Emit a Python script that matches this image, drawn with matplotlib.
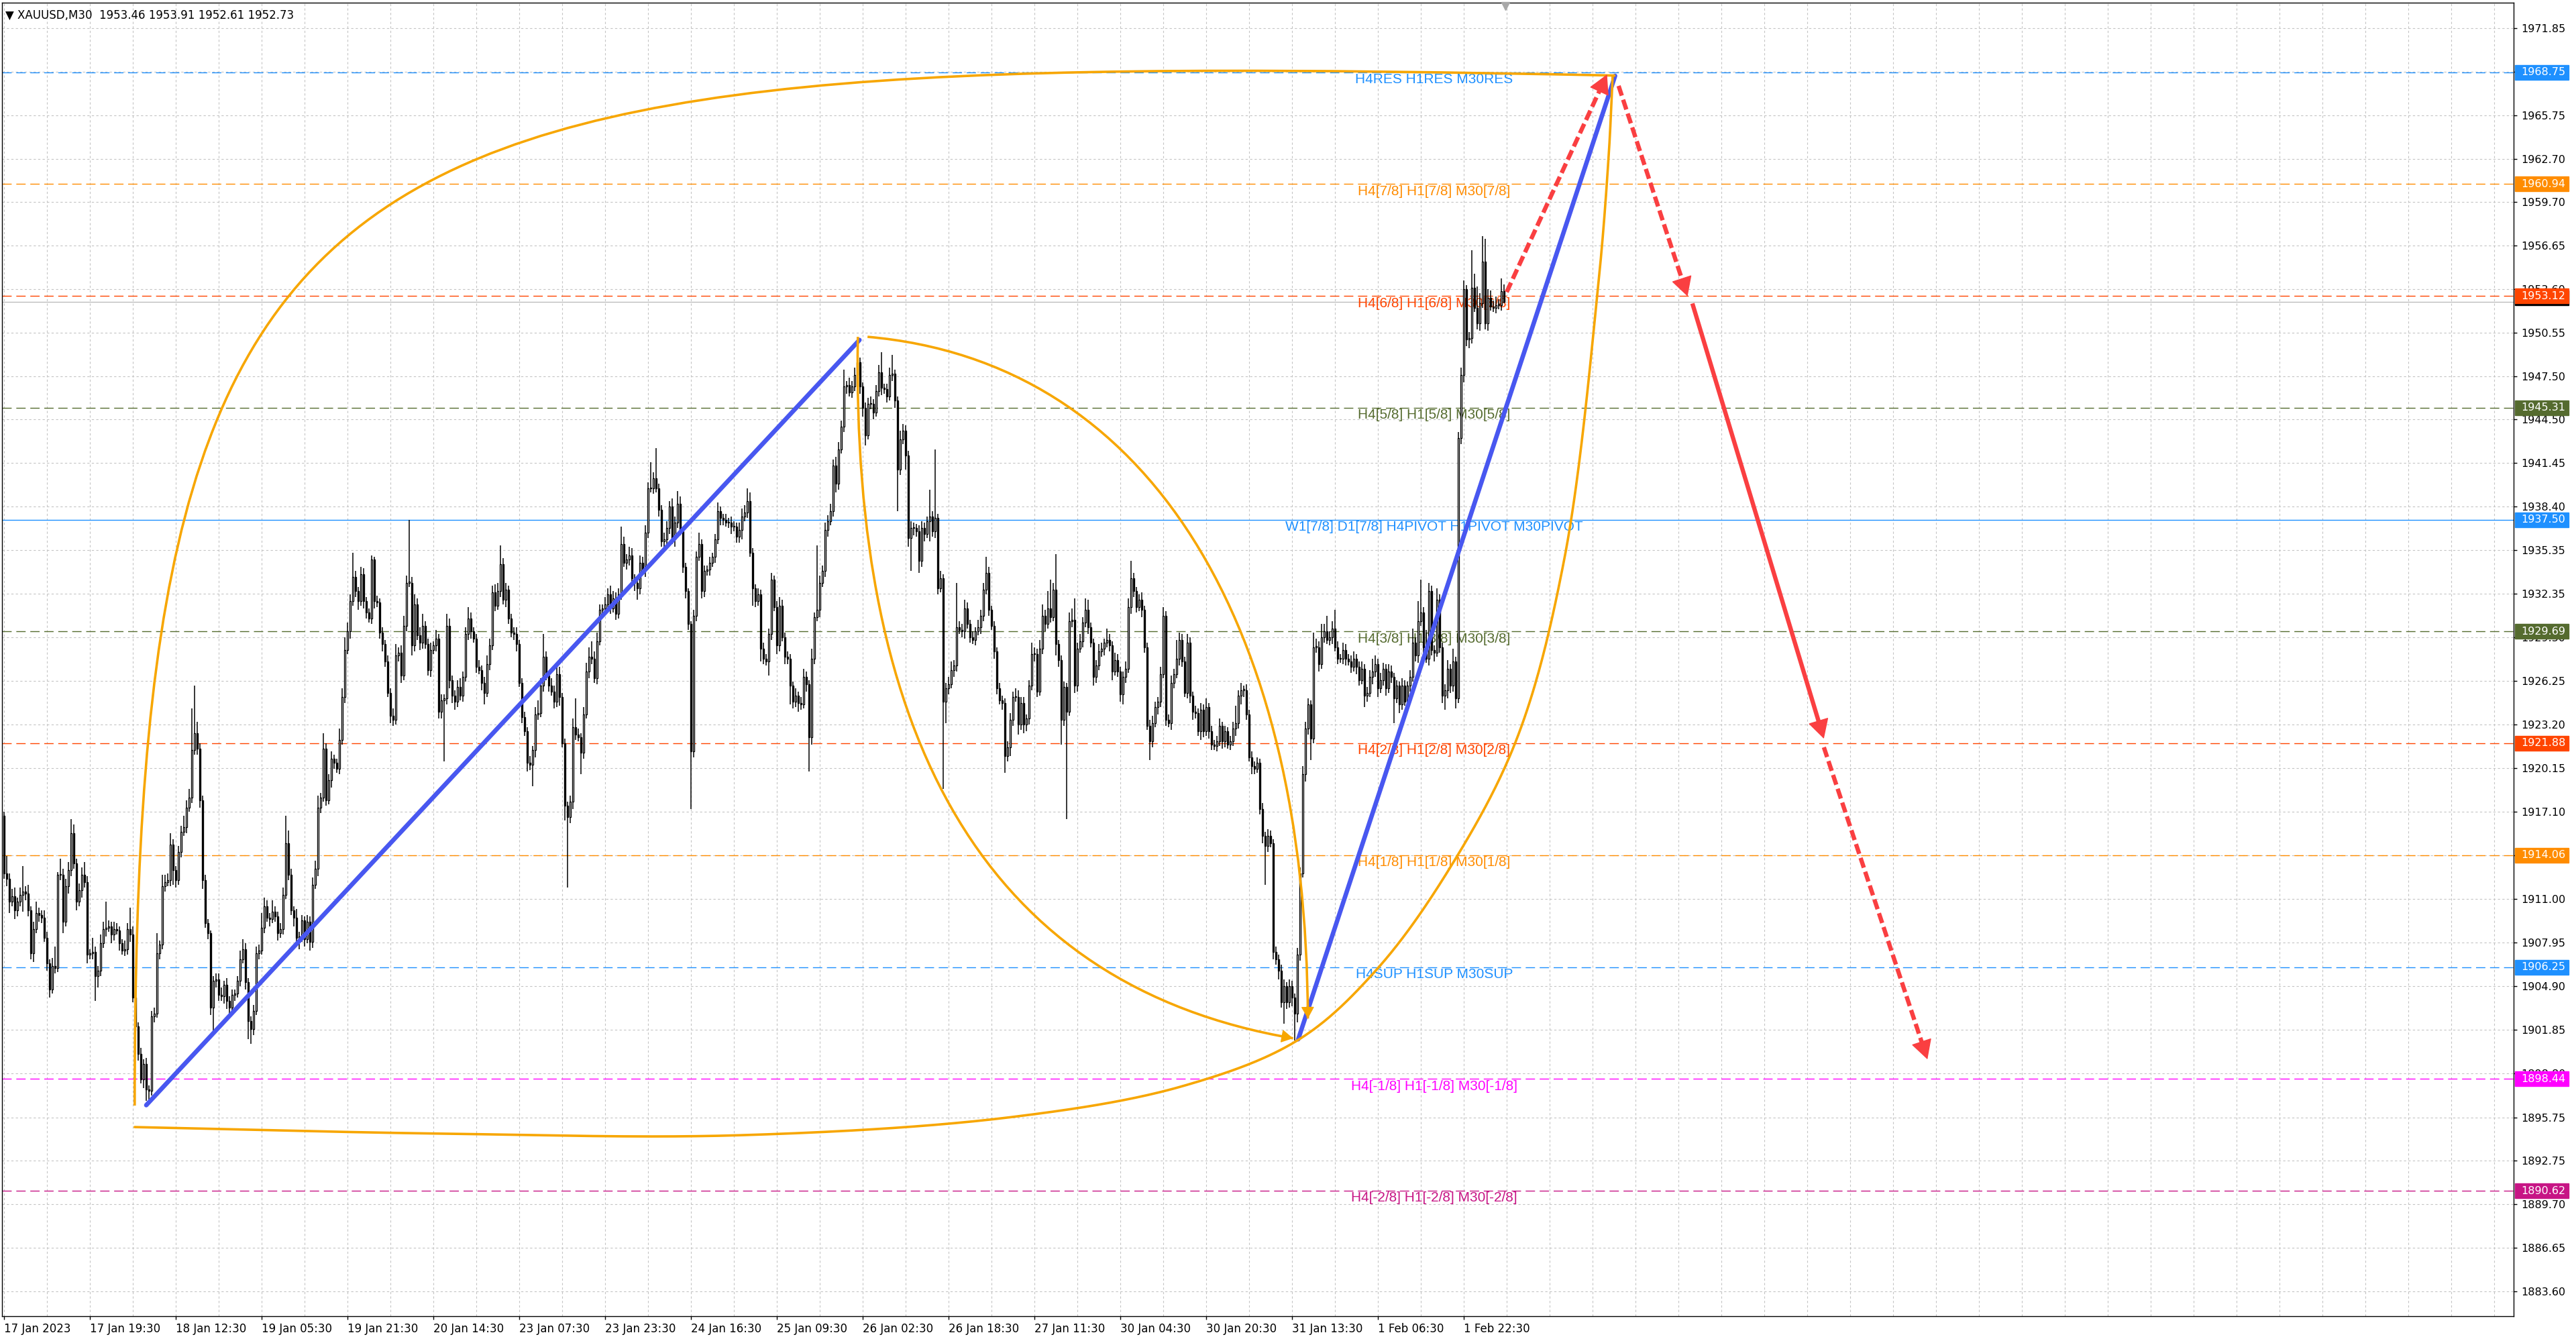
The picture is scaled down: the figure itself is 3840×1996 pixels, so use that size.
import matplotlib
matplotlib.use("Agg")
import matplotlib.pyplot as plt
import numpy as np
from matplotlib.path import Path
from matplotlib.patches import PathPatch, FancyArrowPatch, Rectangle
import matplotlib.transforms as mtransforms

# ---- data (XAUUSD M30) ----
symbol = "XAUUSD,M30"
first_open = 1916.8

closes = [
    1912.8, 1912.4, 1910.8, 1911.2, 1910.2, 1910.8, 1911.3, 1911.5, 1911.4, 1910.2,  # 0
    1907.2, 1908.9, 1910.0, 1909.9, 1909.7, 1908.3, 1906.5, 1904.7, 1906.3, 1906.2,  # 10
    1912.7, 1912.7, 1909.4, 1911.9, 1913.0, 1915.6, 1913.5, 1910.8, 1911.6, 1912.7,  # 20
    1912.2, 1907.1, 1907.2, 1907.3, 1905.6, 1906.0, 1907.9, 1908.9, 1909.0, 1909.1,  # 30
    1908.5, 1908.9, 1908.8, 1907.9, 1907.4, 1907.5, 1908.9, 1908.5, 1904.1, 1902.1,  # 40
    1900.2, 1898.4, 1899.5, 1897.7, 1897.6, 1902.8, 1903.0, 1907.2, 1907.8, 1911.9,  # 50
    1912.2, 1912.3, 1914.8, 1913.0, 1912.3, 1914.3, 1915.7, 1916.0, 1917.4, 1918.1,  # 60
    1921.4, 1922.6, 1921.5, 1917.9, 1912.3, 1909.3, 1908.6, 1903.4, 1905.3, 1905.4,  # 70
    1904.3, 1904.2, 1905.0, 1903.9, 1903.4, 1904.3, 1904.4, 1905.3, 1906.8, 1907.5,  # 80
    1905.2, 1902.5, 1901.9, 1903.2, 1907.2, 1907.4, 1909.0, 1910.5, 1909.7, 1909.6,  # 90
    1910.1, 1909.8, 1908.6, 1908.9, 1911.3, 1914.9, 1912.7, 1910.2, 1909.7, 1908.3,  # 100
    1908.4, 1909.5, 1908.2, 1909.4, 1908.0, 1912.0, 1913.1, 1917.4, 1918.1, 1921.5,  # 110
    1917.9, 1919.3, 1920.8, 1920.5, 1920.1, 1922.1, 1925.1, 1928.4, 1929.7, 1931.8,  # 120
    1933.5, 1932.5, 1931.8, 1933.7, 1931.8, 1931.0, 1930.6, 1934.7, 1931.8, 1931.7,  # 130
    1929.6, 1928.8, 1927.6, 1925.4, 1923.8, 1923.5, 1928.0, 1928.2, 1926.6, 1930.1,  # 140
    1933.1, 1933.1, 1928.7, 1931.6, 1929.4, 1928.9, 1930.1, 1928.8, 1927.0, 1928.4,  # 150
    1928.7, 1929.2, 1924.1, 1924.9, 1925.0, 1930.1, 1926.3, 1925.2, 1924.8, 1925.8,  # 160
    1925.2, 1926.5, 1929.5, 1930.6, 1929.7, 1929.2, 1927.2, 1927.0, 1926.1, 1925.4,  # 170
    1927.4, 1928.7, 1932.4, 1931.5, 1932.5, 1934.4, 1931.9, 1932.6, 1930.6, 1929.6,  # 180
    1929.5, 1928.8, 1926.1, 1923.7, 1922.7, 1920.5, 1920.4, 1921.4, 1923.9, 1924.0,  # 190
    1925.9, 1927.9, 1926.6, 1925.9, 1925.5, 1924.8, 1926.7, 1925.1, 1921.9, 1917.5,  # 200
    1916.7, 1917.8, 1923.0, 1922.5, 1922.3, 1921.2, 1923.9, 1926.9, 1927.9, 1927.8,  # 210
    1926.4, 1929.0, 1931.2, 1931.3, 1931.6, 1932.3, 1931.3, 1932.0, 1930.9, 1932.3,  # 220
    1935.8, 1934.5, 1934.7, 1935.0, 1933.4, 1933.1, 1932.7, 1934.5, 1934.0, 1936.6,  # 230
    1939.7, 1939.7, 1940.4, 1939.7, 1938.2, 1936.0, 1936.1, 1936.9, 1938.4, 1936.1,  # 240
    1937.3, 1938.6, 1936.7, 1934.2, 1932.5, 1930.2, 1921.3, 1930.8, 1934.9, 1935.8,  # 250
    1932.5, 1933.9, 1934.0, 1934.5, 1934.9, 1936.1, 1938.1, 1937.6, 1937.5, 1937.3,  # 260
    1937.3, 1937.0, 1937.0, 1936.3, 1936.8, 1937.7, 1938.0, 1938.8, 1935.2, 1932.7,  # 270
    1931.8, 1932.3, 1928.5, 1927.8, 1927.6, 1929.5, 1933.3, 1931.4, 1928.7, 1931.5,  # 280
    1929.3, 1927.9, 1927.8, 1925.9, 1924.8, 1925.2, 1924.7, 1924.6, 1926.5, 1926.0,  # 290
    1922.3, 1927.8, 1930.7, 1931.2, 1933.1, 1933.9, 1936.8, 1937.4, 1938.1, 1941.3,  # 300
    1940.0, 1942.4, 1944.0, 1946.8, 1946.9, 1946.4, 1946.8, 1947.6, 1948.5, 1946.8,  # 310
    1945.3, 1943.4, 1945.6, 1945.6, 1945.0, 1946.5, 1947.8, 1946.7, 1946.6, 1946.1,  # 320
    1947.6, 1947.7, 1945.8, 1941.0, 1943.1, 1943.7, 1942.0, 1936.2, 1936.9, 1936.9,  # 330
    1936.7, 1934.6, 1936.9, 1936.5, 1937.4, 1937.7, 1936.7, 1937.6, 1932.7, 1933.4,  # 340
    1924.8, 1925.7, 1926.0, 1927.0, 1927.3, 1930.0, 1929.8, 1929.7, 1931.3, 1930.2,  # 350
    1929.3, 1929.1, 1929.7, 1930.0, 1930.8, 1932.6, 1933.8, 1931.2, 1930.1, 1928.3,  # 360
    1925.7, 1924.9, 1924.7, 1921.0, 1921.6, 1923.5, 1925.1, 1925.1, 1923.2, 1924.7,  # 370
    1923.2, 1923.6, 1925.9, 1928.1, 1928.1, 1925.5, 1928.5, 1930.8, 1930.2, 1931.3,  # 380
    1930.7, 1932.6, 1928.8, 1927.7, 1923.5, 1925.8, 1924.1, 1930.4, 1930.5, 1925.9,  # 390
    1928.5, 1929.0, 1930.3, 1931.2, 1930.0, 1928.9, 1926.5, 1927.3, 1928.3, 1928.5,  # 400
    1928.9, 1929.1, 1928.7, 1926.9, 1927.7, 1926.9, 1925.3, 1926.5, 1927.1, 1931.4,  # 410
    1933.4, 1932.5, 1931.4, 1931.9, 1931.2, 1928.6, 1923.1, 1922.0, 1923.3, 1924.4,  # 420
    1924.8, 1926.7, 1930.8, 1923.5, 1923.3, 1926.1, 1926.7, 1927.8, 1929.1, 1927.6,  # 430
    1925.4, 1928.9, 1925.2, 1924.1, 1924.0, 1922.7, 1924.2, 1922.7, 1924.4, 1922.7,  # 440
    1921.8, 1921.7, 1922.0, 1923.1, 1922.0, 1922.7, 1921.8, 1922.0, 1922.9, 1923.3,  # 450
    1925.2, 1925.6, 1925.6, 1923.9, 1920.9, 1920.3, 1920.1, 1920.5, 1917.3, 1915.4,  # 460
    1914.7, 1915.4, 1914.9, 1907.3, 1906.8, 1906.0, 1903.8, 1904.9, 1903.8, 1904.9,  # 470
    1904.1, 1903.0, 1907.1, 1912.8, 1919.7, 1922.9, 1924.6, 1922.2, 1928.6, 1928.6,  # 480
    1927.4, 1929.3, 1929.7, 1929.1, 1929.3, 1929.9, 1928.6, 1927.8, 1927.8, 1928.4,  # 490
    1927.8, 1927.6, 1927.2, 1927.8, 1927.2, 1926.3, 1927.1, 1925.2, 1925.4, 1926.5,  # 500
    1926.9, 1927.4, 1925.7, 1926.3, 1927.1, 1925.7, 1926.9, 1926.5, 1925.0, 1925.9,  # 510
    1924.6, 1925.9, 1924.8, 1925.9, 1926.5, 1928.9, 1928.0, 1930.4, 1931.0, 1928.6,  # 520
    1927.8, 1932.5, 1928.4, 1928.2, 1931.9, 1928.6, 1925.2, 1925.6, 1927.1, 1925.9,  # 530
    1927.6, 1925.0, 1943.2, 1947.6, 1953.6, 1950.1, 1950.2, 1953.7, 1952.3, 1951.2,  # 540
    1952.6, 1955.5, 1951.2, 1953.0, 1952.4, 1952.3, 1952.5, 1952.5, 1953.46, 1952.73,  # 550
]

upper_wick = [
    .3, 1.2, .4, .5, .6, .3, .5, 1.8, .4, .6,
    .3, .5, .8, .4, .3, .5, .4, .3, .6, 1.4,
    .2, 1.1, .4, .5, .6, 1.0, .6, .3, .5, .5,
    .9, .4, .3, 1.0, .4, .3, .6, .5, 1.8, .4,
    .3, .5, .4, .3, .3, .6, .4, 1.5, .6, .3,
    .3, .4, .3, .4, .3, .4, .4, 1.4, .3, .8,
    .5, .5, .8, .4, .3, .4, .4, .8, .5, .6,
    2.9, 3.3, .8, .4, .3, .4, .3, .2, .3, .4,
    .4, .5, .3, .5, .3, .4, .3, .3, .6, .7,
    .4, .3, .3, .4, .5, .4, 1.0, .6, .4, .3,
    .8, .4, .3, .4, .5, 1.9, .9, .4, .3, .6,
    .3, .4, .3, .5, .4, .5, .6, .8, .3, 1.1,
    .4, .4, .5, .3, .3, .8, .6, .9, .6, .5,
    1.7, .4, .3, .5, .4, .3, .3, .3, .2, .4,
    .3, .4, .3, .4, .3, .5, .8, .4, .5, .7,
    .5, 4.4, .4, .7, .4, .6, .8, .3, .4, .5,
    .3, .6, .3, .4, .3, .8, .5, .3, .4, .5,
    .6, .4, .5, .8, .4, .3, .3, .5, .3, .4,
    .6, .5, .5, .6, .6, 1.3, .4, .5, .3, .3,
    .4, .5, .3, .3, .4, .3, .5, .3, .5, .9,
    .5, 1.6, .4, .3, .5, .4, .7, .5, .3, .3,
    .3, .4, .6, 2.0, .4, .3, .5, .6, .7, 1.1,
    .5, .6, .4, .3, .5, .4, .6, .5, .4, .4,
    1.2, .5, .4, .6, .5, .3, .4, .5, .4, .5,
    .4, 1.8, .4, 2.1, .3, .3, .5, .5, .4, .6,
    .4, .9, .5, .3, .3, .2, .2, .4, .4, .8,
    .3, .4, .3, .4, .3, .4, .6, .3, .3, .4,
    .3, .4, .4, .3, .5, .6, .5, .9, .6, .3,
    .3, .4, .3, .4, .3, .4, .5, .3, .4, .6,
    .4, .3, .4, .3, .3, .5, .3, .4, .6, .4,
    .3, .7, .3, 4.5, .5, .4, .5, .4, .5, .4,
    .6, .5, .4, 1.2, .3, .5, .4, .5, .7, .3,
    .3, .4, .4, .5, .3, .4, .5, 1.4, .3, .4,
    .5, 1.3, .3, .3, .6, .5, .4, .3, .5, .4,
    .3, .4, .5, .4, .3, 1.9, .4, 4.8, .3, .5,
    .3, .4, .5, .6, .4, 3.1, .4, .4, .6, .4,
    .3, .4, .3, .5, .4, .5, 1.1, .4, .3, .3,
    .3, .4, .3, .3, .4, .5, .4, .6, .5, .4,
    .4, .3, .4, .8, .5, .4, .6, .8, .4, 1.2,
    2.0, .5, 2.5, .3, .3, .4, .3, .6, .8, 1.5,
    .4, .5, .4, .8, .7, .3, .3, .4, .5, .4,
    .3, .8, .4, .3, .5, .4, .3, .4, .5, .6,
    1.2, .4, .3, .4, .5, .3, .3, .4, .5, .4,
    .3, .5, .6, .3, .4, .5, .4, 1.3, .5, .4,
    .3, .6, .4, .3, .4, .3, .5, .4, .6, .3,
    .4, .3, .4, .5, .3, .4, .3, .4, .5, 1.2,
    .4, .5, .3, .4, .3, .4, .3, .4, .3, .4,
    .3, .5, .4, .3, .4, .3, .4, .5, .3, .5,
    .4, .3, .5, .4, .6, .5, .4, .3, 1.0, .6,
    .4, .9, .5, 1.1, .4, .5, 1.3, .4, .3, .5,
    .4, .3, .4, .5, .3, .4, .5, .3, .4, .5,
    .9, .6, .4, .5, .4, .3, .5, .4, .3, .4,
    .3, .5, .4, .3, .5, 1.0, .4, 1.4, 2.3, .4,
    1.2, .6, .4, .3, .8, .4, .3, .4, .6, .3,
    .9, .3, .4, .5, .6, .3, .4, 2.6, 1.0, 1.5,
    .7, 1.8, 1.6, .6, .5, .4, .6, .4, .9, .45,
]

lower_wick = [
    .4, .5, .8, .3, .6, .4, .3, 1.2, .5, .4,
    .4, .6, .3, .5, .4, .3, .5, .6, .3, .4,
    .3, .4, .8, .3, .5, .4, .4, .6, .3, .5,
    .4, .6, .3, .4, 1.7, .8, .4, .3, .5, .3,
    .6, .4, .3, .5, .3, .4, .4, .5, .3, .4,
    .5, .3, .6, .8, .6, .3, .4, .3, .4, .3,
    .4, .3, .4, 1.0, .5, .3, .4, .3, .4, .3,
    .4, .3, .4, .5, .6, .3, .4, .5, 1.7, .5,
    .4, .3, .5, .6, .4, .3, .4, .3, .4, .3,
    .5, 1.3, 1.0, .4, .3, .4, .3, .4, .3, .5,
    .3, .4, .5, .3, .4, .3, .4, .3, .6, .5,
    .8, .4, .5, .3, .6, .4, .3, .5, .4, .3,
    .4, .3, .5, .4, .3, .4, .3, .4, .3, .5,
    .3, .4, .6, .3, .5, .4, .3, .4, .5, .3,
    .4, .5, .4, .3, .5, .4, .3, .4, .5, .3,
    .4, .3, .7, .4, .3, .5, .4, .3, .4, .5,
    .3, .4, .5, .5, 4.3, .4, .6, .5, .6, .4,
    .3, .4, .3, .4, .5, .3, .4, .3, .5, .8,
    .3, .4, .3, .4, .3, .4, .3, .5, .4, .3,
    .4, .5, .3, .4, .3, .6, .4, 1.5, .5, .4,
    .3, .4, .3, .4, .3, .5, .4, .6, .3, 1.0,
    4.9, .4, .5, .4, .3, 1.5, .4, .3, .5, .4,
    .3, .4, .3, .4, .3, .5, .4, .3, .4, .3,
    .4, .3, .5, .4, .3, .6, .8, .4, .3, .5,
    .4, .3, .4, .3, .5, .4, .6, .3, .4, .3,
    .5, .4, .3, .4, .5, .4, 4.0, .4, .4, .3,
    .5, .4, .3, .4, .3, .4, .3, .5, .4, .3,
    .4, .5, .3, .4, .4, .7, .3, .4, .3, 1.2,
    .4, .3, .9, .4, .3, 1.0, .4, .3, .6, .4,
    .3, .5, .4, 1.3, .5, .4, .6, .4, .3, .5,
    2.4, .5, .4, .3, .5, .3, .4, .5, .3, .4,
    .6, .4, .3, .4, .5, .3, .4, .3, .4, .5,
    .6, .7, .3, .4, .5, .3, .4, .5, .3, .4,
    .3, .4, .5, 2.9, .4, .3, 1.0, .6, 2.3, .5,
    .4, .8, .4, .5, .3, 1.4, .4, .5, .4, .3,
    6.1, 1.5, .4, .3, .5, .4, .3, .4, .5, .3,
    .4, .3, .4, .3, .5, .4, .3, .4, .3, .5,
    .4, .3, .5, 1.2, .4, .6, .4, .3, .7, .4,
    .6, .5, .4, .3, .5, .4, .3, .4, .5, .3,
    .4, .3, .8, .5, 1.7, .4, 7.5, .3, .4, .5,
    .4, .3, .4, .3, .5, .3, .6, .4, .3, .4,
    .5, .3, .4, .6, .3, .4, .5, .7, .4, .3,
    .5, .4, .4, .3, .5, .4, .3, 1.3, .4, .3,
    .5, .4, .3, .4, .3, .5, .4, .3, .5, .4,
    .3, .4, .5, .6, .4, .3, .6, .4, .3, .5,
    .4, .3, .4, .3, .5, .4, .3, .4, .3, .5,
    .4, .6, .5, .4, .3, .6, .4, .3, .4, .5,
    2.7, .4, .3, .5, .4, .6, .4, 1.5, .5, .4,
    .6, 1.9, .6, .4, .3, .5, .4, 1.5, .3, .4,
    .5, .3, .4, .3, .4, .5, .3, .4, .3, .4,
    .5, .3, .4, .3, .5, .4, .3, .8, .4, .3,
    .5, .4, .6, .3, .4, .5, .3, .4, 1.7, .3,
    .6, .4, .3, .5, .4, .3, .4, .5, .3, .4,
    .3, .5, .4, .6, .3, .4, .5, 1.0, .6, .5,
    .4, .7, .3, .4, .5, .5, .6, .4, .3, .4,
    .5, .3, .4, .5, .3, .3, .4, .3, .4, .12,
]

date_labels = ["17 Jan 2023", "17 Jan 19:30", "18 Jan 12:30", "19 Jan 05:30", "19 Jan 21:30",
               "20 Jan 14:30", "23 Jan 07:30", "23 Jan 23:30", "24 Jan 16:30", "25 Jan 09:30",
               "26 Jan 02:30", "26 Jan 18:30", "27 Jan 11:30", "30 Jan 04:30", "30 Jan 20:30",
               "31 Jan 13:30", "1 Feb 06:30", "1 Feb 22:30"]
bars_per_label = 32

price_ticks = [1971.85, 1968.80, 1965.75, 1962.70, 1959.70, 1956.65, 1953.60, 1950.55, 1947.50,
               1944.50, 1941.45, 1938.40, 1935.35, 1932.35, 1929.30, 1926.25, 1923.20, 1920.15,
               1917.10, 1914.05, 1911.00, 1907.95, 1904.90, 1901.85, 1898.80, 1895.75, 1892.75,
               1889.70, 1886.65, 1883.60]

level_prices = [1968.75, 1960.94, 1953.12, 1945.31, 1937.50, 1929.69, 1921.88, 1914.06,
                1906.25, 1898.44, 1890.62]
level_names = ["H4RES H1RES M30RES", "H4[7/8] H1[7/8] M30[7/8]", "H4[6/8] H1[6/8] M30[6/8]",
               "H4[5/8] H1[5/8] M30[5/8]", "W1[7/8] D1[7/8] H4PIVOT H1PIVOT M30PIVOT",
               "H4[3/8] H1[3/8] M30[3/8]", "H4[2/8] H1[2/8] M30[2/8]", "H4[1/8] H1[1/8] M30[1/8]",
               "H4SUP H1SUP M30SUP", "H4[-1/8] H1[-1/8] M30[-1/8]", "H4[-2/8] H1[-2/8] M30[-2/8]"]
level_colors = ["#1E90FF", "#FF8C00", "#FF4500", "#556B2F", "#1E90FF", "#556B2F",
                "#FF4500", "#FF8C00", "#1E90FF", "#FF00FF", "#C71585"]

# hand drawn objects on the chart, (bar index, price)
blue_trend = [[(53.0, 1896.6), (318.8, 1950.05)],
              [(482.3, 1901.2), (600.4, 1968.5)]]
# big curved outline: upper side as bezier controls, lower side as traced points
big_arc_upper = [(48.7, 1896.57), (48.7, 1966.92), (121.0, 1970.36), (600.5, 1968.52)]
big_arc_lower = [(48.7, 1895.07), (163.8, 1894.61), (274.1, 1894.50), (375.1, 1895.76),
                 (439.4, 1897.94), (482.3, 1901.16), (511.1, 1905.98), (538.6, 1913.10),
                 (563.7, 1922.16), (581.5, 1934.78), (594.0, 1953.65), (598.0, 1962.90),
                 (599.5, 1968.52)]
# inner curved arrows, bezier control points
orange_curves = [[(318.2, 1950.27), (315.7, 1922.16), (365.9, 1904.94), (480.4, 1901.27)],
                 [(321.8, 1950.27), (427.2, 1948.55), (485.3, 1930.19), (485.9, 1902.65)]]
red_arrows = [[(560.0, 1953.4), (597.4, 1968.6)],
              [(601.7, 1967.8), (627.4, 1953.1)],
              [(629.2, 1952.6), (678.2, 1922.2)],
              [(678.2, 1921.6), (716.8, 1899.8)]]
red_dashed = [True, True, False, True]

# ---- figure ----
W, H = 3840, 1996
fig = plt.figure(figsize=(W / 100, H / 100), dpi=100, facecolor="white")
ax_l, ax_r, ax_t, ax_b = 3, 3747, 4, 1962
ax = fig.add_axes([ax_l / W, 1 - ax_b / H, (ax_r - ax_l) / W, (ax_b - ax_t) / H])
ax.set_facecolor("white")

x_lo, x_hi = -0.75, 935.25
y_lo, y_hi = 1881.86, 1973.61
ax.set_xlim(x_lo, x_hi)
ax.set_ylim(y_lo, y_hi)

n = len(closes)
idx = np.arange(n)
c = np.array(closes)
o = np.concatenate([[first_open], c[:-1]])
hi = np.maximum(o, c) + np.array(upper_wick)
lo = np.minimum(o, c) - np.array(lower_wick)

# grid
grid_kw = dict(color="#C4C4C4", lw=0.8, ls=(0, (3, 3)), zorder=0.5)
for p in price_ticks:
    ax.axhline(p, **grid_kw)
for gx in np.arange(0, x_hi, bars_per_label // 2):
    ax.axvline(gx, **grid_kw)

# levels
label_bar = 533
for p, name, col in zip(level_prices, level_names, level_colors):
    ls = "-" if "PIVOT" in name else (0, (10, 5))
    ax.axhline(p, color=col, lw=1.0, ls=ls, zorder=1)
    ax.annotate(name, xy=(label_bar, p), xytext=(0, -1), textcoords="offset points",
                ha="center", va="top", color=col, fontsize=15, family="Liberation Sans",
                zorder=1.5)

# bid line
ax.axhline(c[-1], color="#BDBDBD", lw=1.0, zorder=1.2)

# candles
ax.vlines(idx, lo, hi, color="black", lw=1.1, zorder=2.9)
body_bottom = np.minimum(o, c)
body_h = np.maximum(np.abs(c - o), 0.05)
body_col = np.where(c >= o, "white", "black")
ax.bar(idx, body_h, bottom=body_bottom, width=0.7, color=body_col, edgecolor="black",
       linewidth=0.95, zorder=3)

# blue trend lines
for (p0, p1) in blue_trend:
    ax.plot([p0[0], p1[0]], [p0[1], p1[1]], color="#4857F0", lw=4.8,
            solid_capstyle="round", zorder=5)


def bez(pts, t):
    pts = np.asarray(pts)
    return ((1 - t) ** 3 * pts[0] + 3 * (1 - t) ** 2 * t * pts[1]
            + 3 * (1 - t) * t ** 2 * pts[2] + t ** 3 * pts[3])


def smooth_through(points, steps=40):
    # centripetal catmull-rom, done in pixel space
    P = ax.transData.transform(np.asarray(points, float))
    P = np.vstack([2 * P[0] - P[1], P, 2 * P[-1] - P[-2]])
    out = []
    for i in range(1, len(P) - 2):
        p0, p1, p2, p3 = P[i - 1], P[i], P[i + 1], P[i + 2]
        t0 = 0.0
        t1 = t0 + np.linalg.norm(p1 - p0) ** 0.5
        t2 = t1 + np.linalg.norm(p2 - p1) ** 0.5
        t3 = t2 + np.linalg.norm(p3 - p2) ** 0.5
        t = np.linspace(t1, t2, steps, endpoint=False)[:, None]
        a1 = (t1 - t) / (t1 - t0) * p0 + (t - t0) / (t1 - t0) * p1
        a2 = (t2 - t) / (t2 - t1) * p1 + (t - t1) / (t2 - t1) * p2
        a3 = (t3 - t) / (t3 - t2) * p2 + (t - t2) / (t3 - t2) * p3
        b1 = (t2 - t) / (t2 - t0) * a1 + (t - t0) / (t2 - t0) * a2
        b2 = (t3 - t) / (t3 - t1) * a2 + (t - t1) / (t3 - t1) * a3
        out.append((t2 - t) / (t2 - t1) * b1 + (t - t1) / (t2 - t1) * b2)
    out.append(P[-2][None, :])
    return ax.transData.inverted().transform(np.vstack(out))


def pull_back(p0, p1, px):
    a = ax.transData.transform(p0)
    b = ax.transData.transform(p1)
    d = b - a
    L = np.hypot(*d)
    return ax.transData.inverted().transform(b - d / L * px)


orange = "#F7A600"
curve_codes = [Path.MOVETO, Path.CURVE4, Path.CURVE4, Path.CURVE4]
ax.add_patch(PathPatch(Path(big_arc_upper, curve_codes), fill=False, ec=orange, lw=2.6,
                       zorder=6))
xy = smooth_through(big_arc_lower)
ax.plot(xy[:, 0], xy[:, 1], color=orange, lw=2.6, solid_capstyle="round", zorder=6)

for pts in orange_curves:
    ax.add_patch(PathPatch(Path(pts, curve_codes), fill=False, ec=orange, lw=2.6, zorder=6))
    ax.add_patch(FancyArrowPatch(tuple(bez(pts, 0.97)), tuple(pts[3]),
                                 arrowstyle="-|>,head_length=0.5,head_width=0.28",
                                 mutation_scale=22, color=orange, lw=1,
                                 shrinkA=0, shrinkB=0, zorder=6))

red = "#FA3F41"
for (p0, p1), dashed in zip(red_arrows, red_dashed):
    stop = pull_back(p0, p1, 16)
    ax.plot([p0[0], stop[0]], [p0[1], stop[1]], color=red, lw=4.6,
            ls=(0, (2.4, 1.0)) if dashed else "-", solid_capstyle="butt",
            dash_capstyle="butt", zorder=7)
    base = pull_back(p0, p1, 24)
    ax.add_patch(FancyArrowPatch(tuple(base), tuple(p1),
                                 arrowstyle="-|>,head_length=0.55,head_width=0.3",
                                 mutation_scale=34, color=red, lw=1,
                                 shrinkA=0, shrinkB=0, zorder=7))

# axes cosmetics
for s in ax.spines.values():
    s.set_color("black")
    s.set_linewidth(1.0)
ax.yaxis.tick_right()
ax.set_yticks(price_ticks)
ax.set_yticklabels([f"{p:.2f}" for p in price_ticks])
ax.tick_params(axis="y", length=3.5, width=1, pad=4.5, labelsize=11.5, colors="black")
xt = np.arange(len(date_labels)) * bars_per_label
ax.set_xticks(xt)
ax.set_xticklabels(date_labels, ha="left")
ax.tick_params(axis="x", length=3.5, width=1, pad=4, labelsize=12, colors="black")

# price boxes on the right scale
box_tr = mtransforms.blended_transform_factory(ax.transAxes, ax.transData)
ax_w = ax_r - ax_l
bx0 = (3749 - ax_l) / ax_w
bw = 80 / ax_w
half = 11 * (y_hi - y_lo) / (ax_b - ax_t)
for p, col in zip(level_prices, level_colors):
    if abs(p - c[-1]) < 1.0:
        ax.add_patch(Rectangle((bx0, p - half - 0.13), bw, 2 * half, transform=box_tr,
                               color="black", clip_on=False, zorder=9))
    ax.add_patch(Rectangle((bx0, p - half), bw, 2 * half, transform=box_tr,
                           color=col, clip_on=False, zorder=10))
    ax.text(bx0 + 9 / ax_w, p, f"{p:.2f}", transform=box_tr, color="white",
            fontsize=11.5, va="center", ha="left", zorder=11, clip_on=False)

# chart shift marker
ax.plot([n - 0.5], [y_hi - 0.25], marker="v", ms=9, color="#A8A8A8", clip_on=False, zorder=8)

# header
fig.text(8 / W, 1 - 23 / H,
         f"\u25BC {symbol}  {o[-1]:.2f} {hi[-1]:.2f} {lo[-1]:.2f} {c[-1]:.2f}",
         fontsize=12, va="center", ha="left", color="black")

fig.savefig("out.png", dpi=100, facecolor="white")
